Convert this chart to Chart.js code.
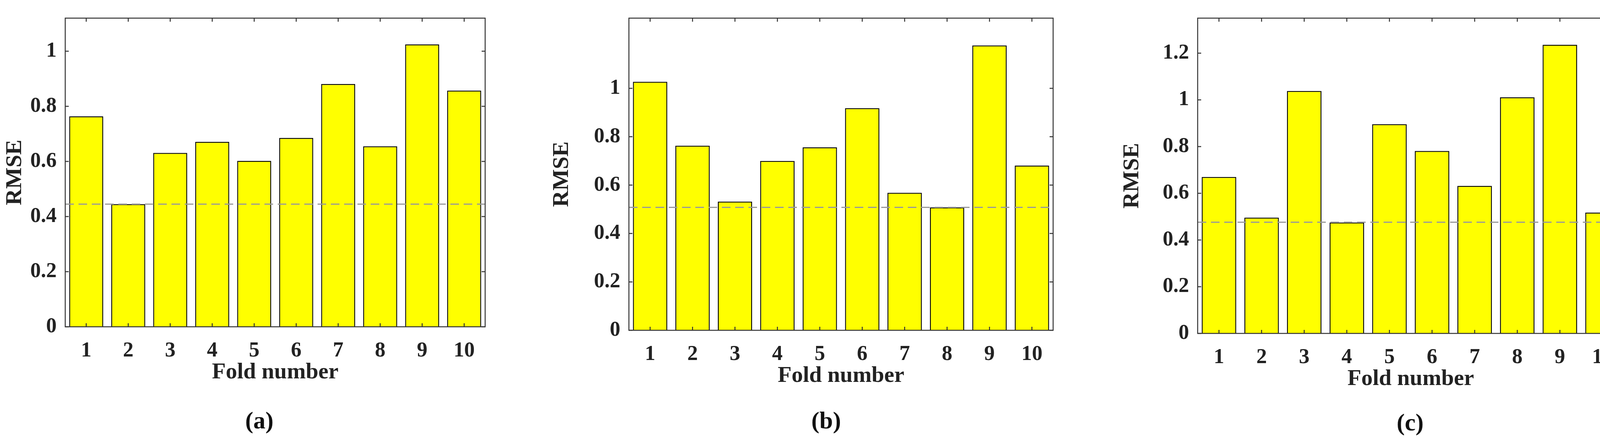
<!DOCTYPE html>
<html><head><meta charset="utf-8">
<script src="https://cdn.jsdelivr.net/npm/chart.js@4/dist/chart.umd.min.js"></script>
<style>
html,body{margin:0;padding:0;background:#fff;width:4164px;height:1141px;overflow:hidden}
#wrap{position:relative;width:4164px;height:1141px}
.p{position:absolute;top:0;height:1141px}
canvas{display:block}
.cap{position:absolute;font:bold 62px "Liberation Serif";color:#111;transform:translateX(-50%)}
</style></head><body><div id="wrap">
<div class="p" style="left:0;width:1300px"><canvas id="ca"></canvas></div>
<div class="p" style="left:1400px;width:1340px"><canvas id="cb"></canvas></div>
<div class="p" style="left:2860px;width:1300px"><canvas id="cc"></canvas></div>
<div class="cap" style="left:664px;top:1040px">(a)</div>
<div class="cap" style="left:2115px;top:1040px">(b)</div>
<div class="cap" style="left:3610px;top:1045px">(c)</div>
</div>
<script>
const folds = ['1','2','3','4','5','6','7','8','9','10'];
const rmseA = [0.764,0.445,0.631,0.671,0.602,0.685,0.881,0.655,1.025,0.857];
const rmseB = [1.027,0.763,0.532,0.700,0.756,0.918,0.568,0.508,1.177,0.681];
const rmseC = [0.670,0.496,1.038,0.475,0.896,0.781,0.632,1.011,1.236,0.517];
const minA = 0.445, minB = 0.508, minC = 0.476;
const yMaxA = 1.12, yMaxB = 1.29, yMaxC = 1.35;

const framePlugin = {
  id:'frame',
  afterDatasetsDraw(chart, args, opts){
    const {ctx, chartArea:a, scales:{x,y}} = chart;
    ctx.save();
    const yl = y.getPixelForValue(opts.ref);
    ctx.strokeStyle='#999'; ctx.lineWidth=3; ctx.setLineDash([22,12]);
    ctx.beginPath(); ctx.moveTo(a.left,yl); ctx.lineTo(a.right,yl); ctx.stroke();
    ctx.setLineDash([]);
    ctx.strokeStyle='#333'; ctx.lineWidth=2.5;
    ctx.strokeRect(a.left,a.top,a.right-a.left,a.bottom-a.top);
    const L=9;
    ctx.beginPath();
    y.ticks.forEach(t=>{const p=y.getPixelForValue(t.value);
      ctx.moveTo(a.left,p);ctx.lineTo(a.left+L,p);ctx.moveTo(a.right,p);ctx.lineTo(a.right-L,p);});
    x.ticks.forEach((t,i)=>{const p=x.getPixelForTick(i);
      ctx.moveTo(p,a.top);ctx.lineTo(p,a.top+L);ctx.moveTo(p,a.bottom);ctx.lineTo(p,a.bottom-L);});
    ctx.stroke();
    ctx.restore();
  }
};

function make(id, data, ref, yMax, W, yw, top, right, bottom){
  const c=document.getElementById(id);
  c.width=W;c.height=1141;c.style.width=W+'px';c.style.height='1141px';
  const font={family:'Liberation Serif',weight:'bold',size:54};
  new Chart(c,{
    type:'bar',
    data:{labels:folds,datasets:[{data,backgroundColor:'#ffff00',borderColor:'#000',borderWidth:2.5,
      barPercentage:0.81,categoryPercentage:1}]},
    options:{
      responsive:false,animation:false,devicePixelRatio:1,
      layout:{padding:{top:top,right:right,left:0,bottom:1141-bottom-156}},
      plugins:{legend:{display:false},tooltip:{enabled:false},frame:{ref}},
      scales:{
        x:{grid:{display:false},border:{display:false},
          ticks:{color:'#222',font,padding:22,maxRotation:0},
          title:{display:true,text:'Fold number',color:'#222',font:{...font,size:58},padding:{top:0}},
          afterFit(s){s.height=156;}},
        y:{min:0,max:yMax,grid:{display:false},border:{display:false},
          ticks:{stepSize:0.2,color:'#222',font,padding:14,callback:v=>Math.round(v*10)/10},
          afterBuildTicks(s){s.ticks=s.ticks.filter(t=>Math.abs(t.value*5-Math.round(t.value*5))<1e-6);},
          title:{display:true,text:'RMSE',color:'#222',font:{...font,size:58},padding:{bottom:4}},
          afterFit(s){s.width=yw;}}
      }
    },
    plugins:[framePlugin]
  });
}
make('ca',rmseA,minA,yMaxA,1300,167,26,1300-1242,836);
make('cb',rmseB,minB,yMaxB,1340,210,26,1340-1296,845);
make('cc',rmseC,minC,yMaxC,1300,206,28,3,853);
</script>
</body></html>
